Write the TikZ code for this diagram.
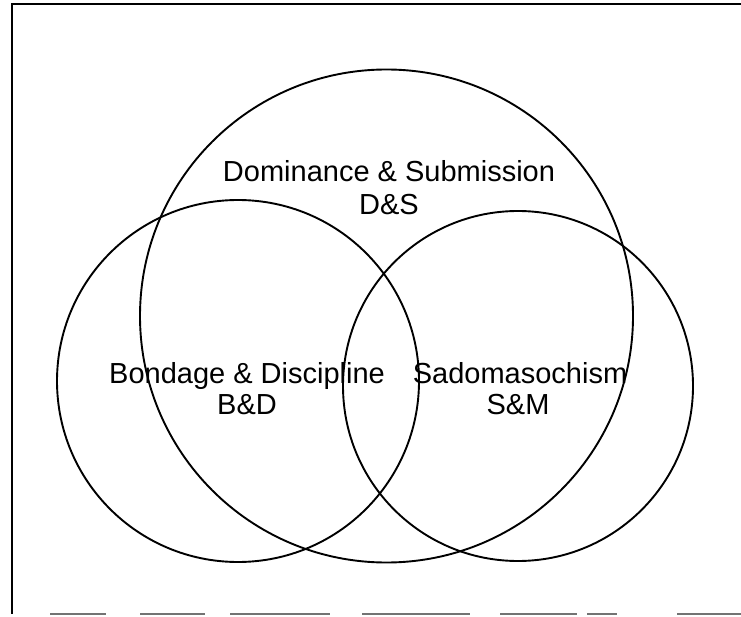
\documentclass[tikz,border=0pt]{standalone}
\usepackage{fontspec}
\setmainfont{Liberation Sans}
\begin{document}
\begin{tikzpicture}[x=1pt,y=-1pt,
  venn/.style={circle,draw=black,line width=1.9pt,inner sep=0pt},
  lbl/.style={font=\fontsize{29}{33}\selectfont,inner sep=0pt,anchor=base},
  frameline/.style={line width=2pt,draw=black},
  faintline/.style={line width=1.3pt,draw=black!55}]
\useasboundingbox (0,0) rectangle (741,617);
% frame
\coordinate (tl) at (12,4);
\coordinate (tr) at (741,4);
\coordinate (bl) at (12,614);
\draw[frameline] (tr) -- (tl) -- (bl);
\foreach \a/\b in {50/106,140/205,230/330,362/470,500/577,587/617,677/741}{
  \draw[faintline] (\a,614) -- (\b,614);
}
% circles
\node[venn,minimum size=493pt] (ds) at (386.5,316) {};
\node[venn,minimum size=362pt] (bd) at (238,381) {};
\node[venn,minimum size=350pt] (sm) at (518,386) {};
% labels
\node[lbl] (dsname) at (389,182) {Dominance \& Submission};
\node[lbl] (dsabbr) at (389,215) {D\&S};
\node[lbl] (bdname) at (247,383) {Bondage \& Discipline};
\node[lbl] (bdabbr) at (247,414) {B\&D};
\node[lbl] (smname) at (520,383) {Sadomasochism};
\node[lbl] (smabbr) at (518,414) {S\&M};
\end{tikzpicture}
\end{document}
